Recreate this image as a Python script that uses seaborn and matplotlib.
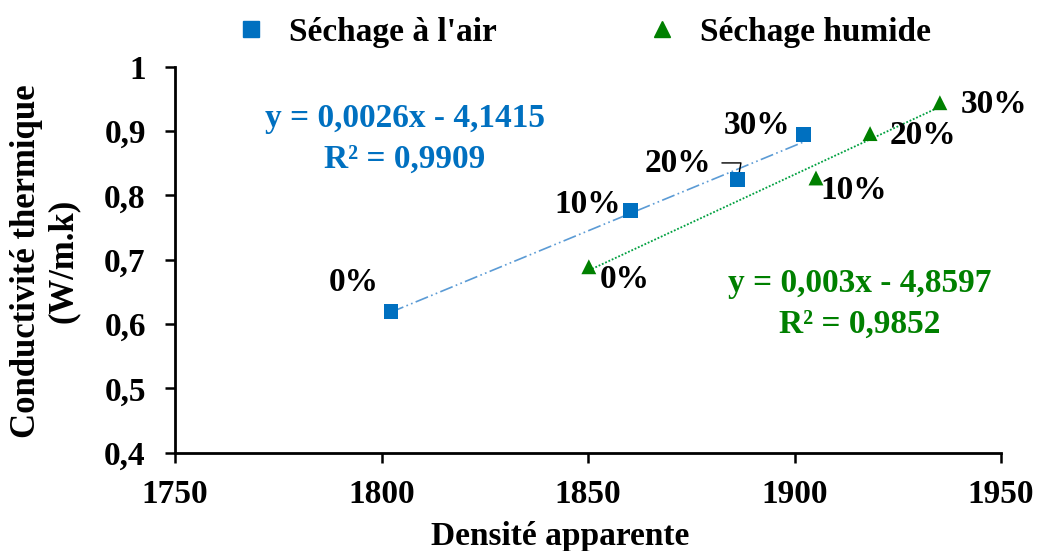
import numpy as np
import pandas as pd
import matplotlib
matplotlib.use("Agg")
import matplotlib.pyplot as plt
import seaborn as sns

# ---- data ----
air_density = [1802.3, 1860.2, 1886.3, 1902.1]
air_cond = [0.619, 0.777, 0.824, 0.894]
wet_density = [1850.2, 1905.2, 1918.3, 1935.2]
wet_cond = [0.689, 0.827, 0.896, 0.944]
pct_labels = ["0%", "10%", "20%", "30%"]
series_names = ["Séchage à l'air", "Séchage humide"]
eq_air = "y = 0,0026x - 4,1415\nR² = 0,9909"
eq_wet = "y = 0,003x - 4,8597\nR² = 0,9852"
x_ticks = [1750, 1800, 1850, 1900, 1950]
y_ticks = [0.4, 0.5, 0.6, 0.7, 0.8, 0.9, 1.0]
y_ticklabels = ["0,4", "0,5", "0,6", "0,7", "0,8", "0,9", "1"]

sns.set_theme(style="white")
plt.rcParams["font.family"] = ["Liberation Serif", "DejaVu Serif"]
plt.rcParams["font.weight"] = "bold"
plt.rcParams["text.color"] = "black"
plt.rcParams["axes.labelcolor"] = "black"
plt.rcParams["xtick.color"] = "black"
plt.rcParams["ytick.color"] = "black"

FS = 24
BLUE = "#0070C0"
BLUE_LINE = "#5B9BD5"
GREEN = "#008000"
GREEN_LINE = "#00A040"

df = pd.DataFrame({
    "Densité": air_density + wet_density,
    "Cond": air_cond + wet_cond,
    "Série": [series_names[0]] * 4 + [series_names[1]] * 4,
})

fig = plt.figure(figsize=(10.39, 5.51), dpi=100)
ax = fig.add_axes([175 / 1039, 1 - 452.7 / 551, (1001 - 175) / 1039, (452.7 - 66.7) / 551])

# trend lines
sns.regplot(x=air_density, y=air_cond, scatter=False, ci=None, truncate=True, ax=ax,
            line_kws=dict(color=BLUE_LINE, lw=1.2, ls=(0, (8, 2, 1, 2, 1, 2))))
sns.regplot(x=wet_density, y=wet_cond, scatter=False, ci=None, truncate=True, ax=ax,
            line_kws=dict(color=GREEN_LINE, lw=1.3, ls=(0, (1, 1))))

sns.scatterplot(data=df, x="Densité", y="Cond", hue="Série", style="Série",
                palette={series_names[0]: BLUE, series_names[1]: GREEN},
                markers={series_names[0]: "s", series_names[1]: "^"},
                s=115, linewidth=0, ax=ax, zorder=5, legend=False)

ax.set_xlim(1750, 1950)
ax.set_ylim(0.4, 1.0)
ax.set_xticks(x_ticks)
ax.set_xticklabels([str(t) for t in x_ticks])
ax.set_yticks(y_ticks)
ax.set_yticklabels(y_ticklabels)
ax.tick_params(axis="both", which="major", bottom=True, left=True, direction="out",
               length=7, width=1.8, labelsize=FS, colors="black")
ax.tick_params(axis="x", pad=12)
ax.tick_params(axis="y", pad=14)
for lab in ax.get_xticklabels() + ax.get_yticklabels():
    lab.set_fontweight("bold")
for side in ["top", "right"]:
    ax.spines[side].set_visible(False)
for side in ["left", "bottom"]:
    ax.spines[side].set_color("black")
    ax.spines[side].set_linewidth(2.0)
ax.set_xlabel("")
ax.set_ylabel("")
ax.patch.set_alpha(0)

# data labels (offsets in pixels)
air_off = [(-37, 29), (-42, 6), (-60, 16), (-46, 9)]
wet_off = [(36, -13), (38, -13), (53, -2), (54, -2)]
for x, y, t, o in zip(air_density, air_cond, pct_labels, air_off):
    ax.annotate(t, (x, y), xytext=o, textcoords="offset pixels", ha="center", va="center",
                fontsize=FS, fontweight="bold", color="black")
for x, y, t, o in zip(wet_density, wet_cond, pct_labels, wet_off):
    ax.annotate(t, (x, y), xytext=o, textcoords="offset pixels", ha="center", va="center",
                fontsize=FS, fontweight="bold", color="black")
# leader line for the 20% air label
ax.annotate("", xy=(air_density[2], air_cond[2]), xytext=(-16, 17), textcoords="offset pixels",
            arrowprops=dict(arrowstyle="-", color="black", lw=1,
                            connectionstyle="angle,angleA=0,angleB=80,rad=0",
                            shrinkA=0, shrinkB=1))

# equations
fig.text(405 / 1039, 1 - 139 / 551, eq_air, ha="center", va="center", fontsize=FS,
         fontweight="bold", color=BLUE, linespacing=1.42)
fig.text(860 / 1039, 1 - 304 / 551, eq_wet, ha="center", va="center", fontsize=FS,
         fontweight="bold", color=GREEN, linespacing=1.42)

# axis titles
fig.text(560 / 1039, 1 - 537 / 551, "Densité apparente", ha="center", va="center",
         fontsize=FS, fontweight="bold")
fig.text(45 / 1039, 1 - 261 / 551, "Conductivité thermique\n(W/m.k)", ha="center", va="center",
         rotation=90, fontsize=25, fontweight="bold", multialignment="center", linespacing=1.15)

# legend
handles = [
    plt.Line2D([], [], marker="s", color=BLUE, ls="none", markersize=11),
    plt.Line2D([], [], marker="^", color=GREEN, ls="none", markersize=11),
]
fig.legend(handles, series_names, loc="center", bbox_to_anchor=(582.5 / 1039, 1 - 32 / 551),
           ncol=2, frameon=False, prop=dict(family="Liberation Serif", weight="bold", size=FS),
           handletextpad=0.65, columnspacing=4.45, handlelength=1.0)

fig.savefig("out.png", dpi=100)
